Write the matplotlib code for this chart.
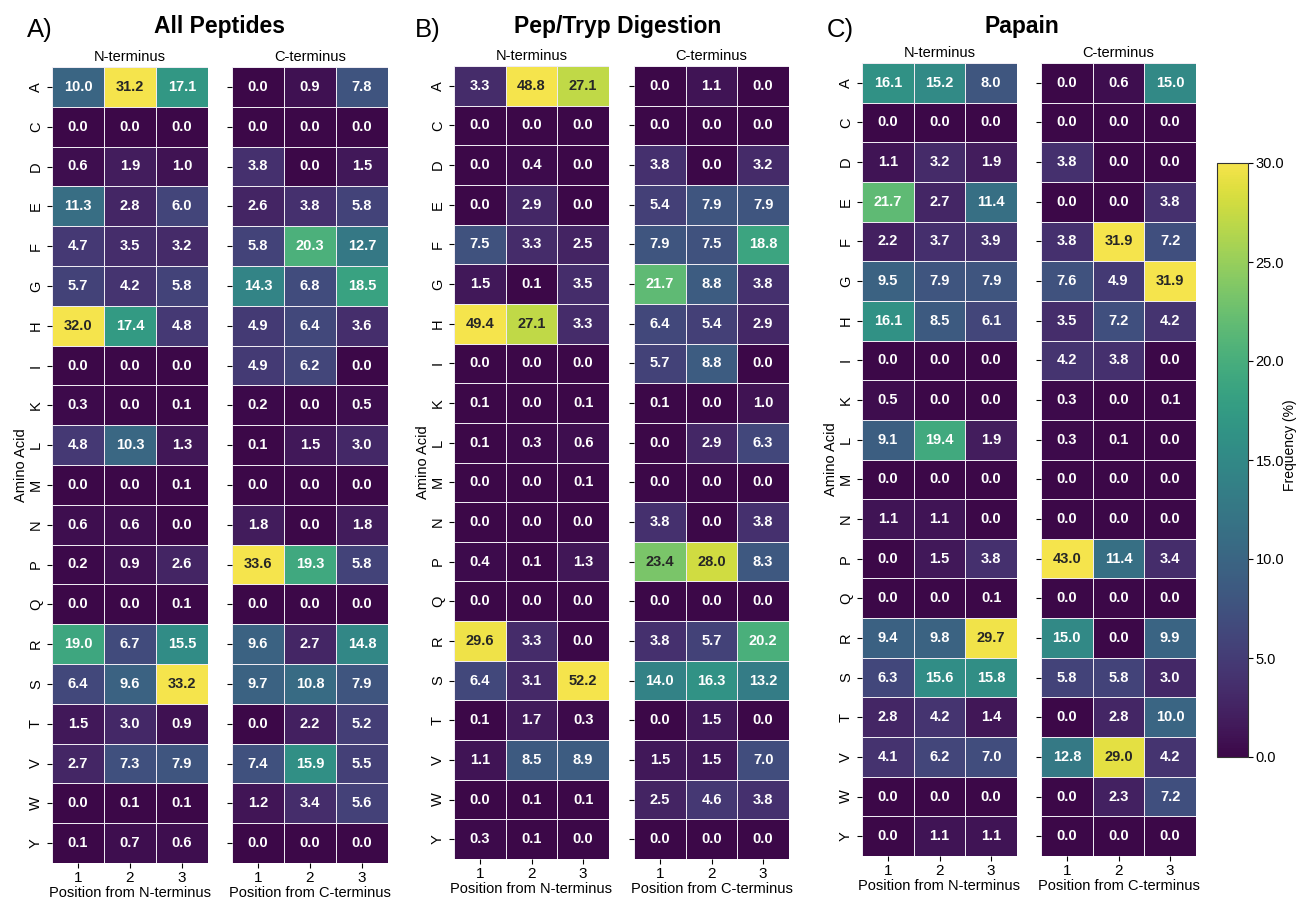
import numpy as np
import matplotlib
matplotlib.use("Agg")
import matplotlib.pyplot as plt
import seaborn as sns
from matplotlib.cm import ScalarMappable
from matplotlib.colors import Normalize, ListedColormap

plt.rcParams['font.family'] = ['Liberation Sans', 'DejaVu Sans']

amino_acids = ['A', 'C', 'D', 'E', 'F', 'G', 'H', 'I', 'K', 'L',
               'M', 'N', 'P', 'Q', 'R', 'S', 'T', 'V', 'W', 'Y']
positions = ['1', '2', '3']

# All peptides
all_n = [[10.0, 31.2, 17.1], [0.0, 0.0, 0.0], [0.6, 1.9, 1.0], [11.3, 2.8, 6.0],
         [4.7, 3.5, 3.2], [5.7, 4.2, 5.8], [32.0, 17.4, 4.8], [0.0, 0.0, 0.0],
         [0.3, 0.0, 0.1], [4.8, 10.3, 1.3], [0.0, 0.0, 0.1], [0.6, 0.6, 0.0],
         [0.2, 0.9, 2.6], [0.0, 0.0, 0.1], [19.0, 6.7, 15.5], [6.4, 9.6, 33.2],
         [1.5, 3.0, 0.9], [2.7, 7.3, 7.9], [0.0, 0.1, 0.1], [0.1, 0.7, 0.6]]
all_c = [[0.0, 0.9, 7.8], [0.0, 0.0, 0.0], [3.8, 0.0, 1.5], [2.6, 3.8, 5.8],
         [5.8, 20.3, 12.7], [14.3, 6.8, 18.5], [4.9, 6.4, 3.6], [4.9, 6.2, 0.0],
         [0.2, 0.0, 0.5], [0.1, 1.5, 3.0], [0.0, 0.0, 0.0], [1.8, 0.0, 1.8],
         [33.6, 19.3, 5.8], [0.0, 0.0, 0.0], [9.6, 2.7, 14.8], [9.7, 10.8, 7.9],
         [0.0, 2.2, 5.2], [7.4, 15.9, 5.5], [1.2, 3.4, 5.6], [0.0, 0.0, 0.0]]

# Pepsin/Trypsin digestion
pt_n = [[3.3, 48.8, 27.1], [0.0, 0.0, 0.0], [0.0, 0.4, 0.0], [0.0, 2.9, 0.0],
        [7.5, 3.3, 2.5], [1.5, 0.1, 3.5], [49.4, 27.1, 3.3], [0.0, 0.0, 0.0],
        [0.1, 0.0, 0.1], [0.1, 0.3, 0.6], [0.0, 0.0, 0.1], [0.0, 0.0, 0.0],
        [0.4, 0.1, 1.3], [0.0, 0.0, 0.0], [29.6, 3.3, 0.0], [6.4, 3.1, 52.2],
        [0.1, 1.7, 0.3], [1.1, 8.5, 8.9], [0.0, 0.1, 0.1], [0.3, 0.1, 0.0]]
pt_c = [[0.0, 1.1, 0.0], [0.0, 0.0, 0.0], [3.8, 0.0, 3.2], [5.4, 7.9, 7.9],
        [7.9, 7.5, 18.8], [21.7, 8.8, 3.8], [6.4, 5.4, 2.9], [5.7, 8.8, 0.0],
        [0.1, 0.0, 1.0], [0.0, 2.9, 6.3], [0.0, 0.0, 0.0], [3.8, 0.0, 3.8],
        [23.4, 28.0, 8.3], [0.0, 0.0, 0.0], [3.8, 5.7, 20.2], [14.0, 16.3, 13.2],
        [0.0, 1.5, 0.0], [1.5, 1.5, 7.0], [2.5, 4.6, 3.8], [0.0, 0.0, 0.0]]

# Papain
pap_n = [[16.1, 15.2, 8.0], [0.0, 0.0, 0.0], [1.1, 3.2, 1.9], [21.7, 2.7, 11.4],
         [2.2, 3.7, 3.9], [9.5, 7.9, 7.9], [16.1, 8.5, 6.1], [0.0, 0.0, 0.0],
         [0.5, 0.0, 0.0], [9.1, 19.4, 1.9], [0.0, 0.0, 0.0], [1.1, 1.1, 0.0],
         [0.0, 1.5, 3.8], [0.0, 0.0, 0.1], [9.4, 9.8, 29.7], [6.3, 15.6, 15.8],
         [2.8, 4.2, 1.4], [4.1, 6.2, 7.0], [0.0, 0.0, 0.0], [0.0, 1.1, 1.1]]
pap_c = [[0.0, 0.6, 15.0], [0.0, 0.0, 0.0], [3.8, 0.0, 0.0], [0.0, 0.0, 3.8],
         [3.8, 31.9, 7.2], [7.6, 4.9, 31.9], [3.5, 7.2, 4.2], [4.2, 3.8, 0.0],
         [0.3, 0.0, 0.1], [0.3, 0.1, 0.0], [0.0, 0.0, 0.0], [0.0, 0.0, 0.0],
         [43.0, 11.4, 3.4], [0.0, 0.0, 0.0], [15.0, 0.0, 9.9], [5.8, 5.8, 3.0],
         [0.0, 2.8, 10.0], [12.8, 29.0, 4.2], [0.0, 2.3, 7.2], [0.0, 0.0, 0.0]]

panels = [('A)', 'All Peptides', all_n, all_c),
          ('B)', 'Pep/Tryp Digestion', pt_n, pt_c),
          ('C)', 'Papain', pap_n, pap_c)]

# slightly muted viridis, as in the reference image
base = plt.get_cmap('viridis')(np.linspace(0, 1, 256))[:, :3]
gray = (base @ np.array([0.3, 0.59, 0.11]))[:, None]
cmap = ListedColormap(base * 0.78 + gray * 0.22)

W, H = 1298, 899
fig = plt.figure(figsize=(W / 100, H / 100), dpi=100)


def px_axes(x0, x1, y0, y1):
    return fig.add_axes([x0 / W, 1 - y1 / H, (x1 - x0) / W, (y1 - y0) / H])


# pixel boxes: (N x0, N x1, C x0, C x1, y top, y bottom, letter x, title x)
boxes = [(52, 208, 232, 388, 67, 863, 27, 220),
         (454, 609, 634, 789, 66, 859, 415, 618),
         (862, 1017, 1041, 1196, 63, 856, 827, 1022)]

vmin, vmax = 0, 30
for (letter, title, n_vals, c_vals), (nx0, nx1, cx0, cx1, yt, yb, lx, tx) in zip(panels, boxes):
    for vals, x0, x1, term in [(n_vals, nx0, nx1, 'N'), (c_vals, cx0, cx1, 'C')]:
        ax = px_axes(x0, x1, yt, yb)
        sns.heatmap(np.array(vals), ax=ax, cmap=cmap, vmin=vmin, vmax=vmax,
                    annot=True, fmt='.1f', annot_kws={'size': 10.5, 'weight': 'bold'},
                    linewidths=0.6, linecolor='#eeeaf2', cbar=False,
                    xticklabels=positions, yticklabels=amino_acids)
        ax.set_title(f'{term}-terminus', fontsize=10.5, pad=4)
        ax.set_xlabel(f'Position from {term}-terminus', fontsize=10.5, labelpad=1)
        ax.tick_params(axis='x', labelsize=11, rotation=0, length=3.5, pad=2)
        ax.tick_params(axis='y', labelsize=10.5, length=3.5, pad=3)
        if term == 'N':
            ax.set_yticklabels(amino_acids, rotation=90, va='center')
            ax.set_ylabel('Amino Acid', fontsize=10.5, labelpad=1)
        else:
            ax.set_yticklabels([])
    fig.text(lx / W, 1 - 30 / H, letter, fontsize=18.5, ha='left', va='center')
    fig.text(tx / W, 1 - 27 / H, title, fontsize=16.5, fontweight='bold',
             ha='center', va='center')

cax = px_axes(1217, 1248, 163, 757)
cb = fig.colorbar(ScalarMappable(norm=Normalize(vmin, vmax), cmap=cmap), cax=cax,
                  ticks=[0, 5, 10, 15, 20, 25, 30], format='%.1f')
cb.outline.set_linewidth(0.8)
cb.outline.set_edgecolor('#333333')
cb.ax.tick_params(labelsize=10.5, length=3.5, pad=2)
cb.set_label('Frequency (%)', fontsize=10, labelpad=-1)
cax.yaxis.label.set_y(0.525)

fig.savefig('out.png', dpi=100)
